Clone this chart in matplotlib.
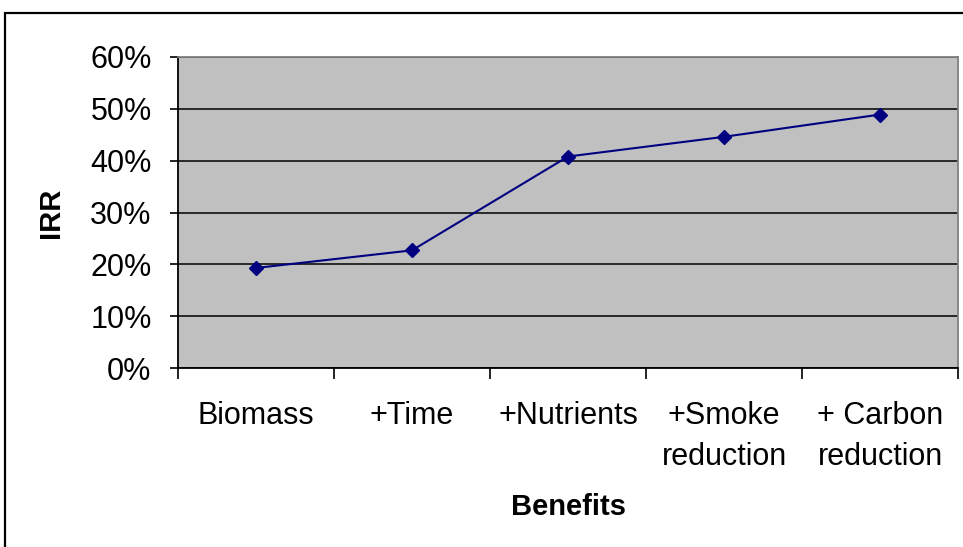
import matplotlib.pyplot as plt
from matplotlib.patches import Rectangle
from matplotlib.ticker import FixedLocator, PercentFormatter

plt.rcParams['font.family'] = ['Liberation Sans', 'DejaVu Sans']

# data
categories = ['Biomass', '+Time', '+Nutrients', '+Smoke\nreduction', '+ Carbon\nreduction']
irr = [19.3, 22.7, 40.8, 44.6, 48.9]
y_ticks = [0, 10, 20, 30, 40, 50, 60]

fig = plt.figure(figsize=(9.63, 5.47), dpi=100)
W, H = 963, 547

# outer chart border (right and bottom fall outside the image)
fig.patches.append(Rectangle((4.5 / W, -0.2), 1.2, 1.2 - 12.5 / H,
                             transform=fig.transFigure, fill=False,
                             edgecolor='black', linewidth=1.6))

ax = fig.add_axes([178 / W, (H - 368) / H, 780 / W, 311 / H])
ax.set_facecolor('#C0C0C0')

x = list(range(len(categories)))
ax.plot(x, irr, color='#000080', linewidth=1.5, marker='D', markersize=7.5,
        markerfacecolor='#000080', markeredgecolor='#000080', zorder=3)

ax.set_xlim(-0.5, len(categories) - 0.5)
ax.set_ylim(0, 60)
ax.yaxis.set_major_locator(FixedLocator(y_ticks))
ax.yaxis.set_major_formatter(PercentFormatter(decimals=0))
ax.grid(axis='y', color='black', linewidth=1.1)
ax.set_axisbelow(True)

ax.set_xticks(x)
ax.set_xticklabels(categories, va='top', linespacing=1.45)
ax.set_xticks([i - 0.5 for i in range(len(categories) + 1)], minor=True)
ax.tick_params(axis='x', which='major', length=0, pad=24, labelsize=22)
ax.tick_params(axis='x', which='minor', length=8, width=1.2, direction='out')
ax.tick_params(axis='y', length=6, width=1.2, direction='out', pad=13, labelsize=22)

for side in ['left', 'bottom']:
    ax.spines[side].set_color('black')
    ax.spines[side].set_linewidth(1.3)
for side in ['top', 'right']:
    ax.spines[side].set_color('#808080')
    ax.spines[side].set_linewidth(1.3)

ax.set_xlabel('Benefits', fontsize=21, fontweight='bold', labelpad=15)
ax.set_ylabel('IRR', fontsize=21, fontweight='bold', labelpad=18)

fig.savefig('out.png', dpi=100)
